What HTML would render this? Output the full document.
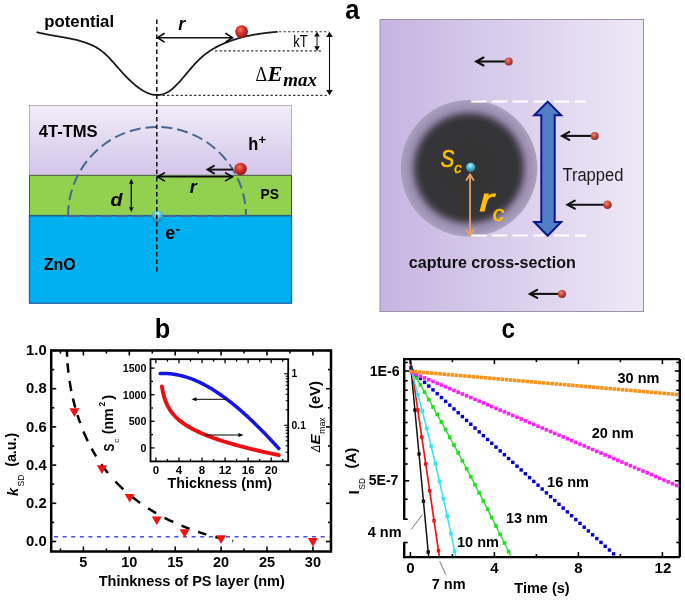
<!DOCTYPE html><html><head><meta charset="utf-8"><style>html,body{margin:0;padding:0;background:#fff;overflow:hidden;}svg{display:block;will-change:transform;}</style></head><body>
<svg width="685" height="600" viewBox="0 0 685 600">
<defs>
<radialGradient id="gred" cx="0.4" cy="0.35" r="0.65"><stop offset="0" stop-color="#f07a6a"/><stop offset="0.45" stop-color="#d8332b"/><stop offset="1" stop-color="#8e1a16"/></radialGradient>
<radialGradient id="gsred" cx="0.4" cy="0.35" r="0.65"><stop offset="0" stop-color="#e88a78"/><stop offset="0.5" stop-color="#cc4a3e"/><stop offset="1" stop-color="#8a2a24"/></radialGradient>
<radialGradient id="gcyan" cx="0.45" cy="0.3" r="0.7"><stop offset="0" stop-color="#bff0fb"/><stop offset="0.45" stop-color="#4fbfdc"/><stop offset="1" stop-color="#2a7f9f"/></radialGradient>
<radialGradient id="gecyan" cx="0.5" cy="0.3" r="0.7"><stop offset="0" stop-color="#d0f6ff"/><stop offset="0.45" stop-color="#4cc0e4"/><stop offset="1" stop-color="#2f6f8f"/></radialGradient>
<linearGradient id="gpurp" x1="0" y1="0" x2="0" y2="1"><stop offset="0" stop-color="#f1edf8"/><stop offset="1" stop-color="#d3c4e9"/></linearGradient>
<linearGradient id="gpa" x1="0" y1="0" x2="1" y2="0"><stop offset="0" stop-color="#c6b4e1"/><stop offset="1" stop-color="#eee9f7"/></linearGradient>
<radialGradient id="gdark" cx="0.5" cy="0.5" r="0.5"><stop offset="0" stop-color="#333333"/><stop offset="0.70" stop-color="#353437"/><stop offset="0.765" stop-color="#4b4653"/><stop offset="0.825" stop-color="#7b708d"/><stop offset="0.875" stop-color="#998dad"/><stop offset="1" stop-color="#ada1c2"/></radialGradient>
</defs>
<text x="44.3" y="27.3" font-family='"Liberation Sans", sans-serif' font-size="17" font-weight="bold" font-style="normal" fill="#000" text-anchor="start" textLength="69.8" lengthAdjust="spacingAndGlyphs" >potential</text>
<path d="M36.60,32.05 L37.57,32.31 L38.54,32.56 L39.50,32.80 L40.47,33.04 L41.44,33.26 L42.41,33.48 L43.38,33.70 L44.35,33.90 L45.31,34.10 L46.28,34.30 L47.25,34.49 L48.22,34.68 L49.19,34.86 L50.16,35.03 L51.12,35.21 L52.09,35.38 L53.06,35.55 L54.03,35.72 L55.00,35.88 L55.97,36.05 L56.93,36.21 L57.90,36.37 L58.87,36.54 L59.84,36.70 L60.81,36.86 L61.78,37.03 L62.74,37.20 L63.71,37.37 L64.68,37.54 L65.65,37.71 L66.62,37.89 L67.58,38.07 L68.55,38.26 L69.52,38.45 L70.49,38.65 L71.46,38.85 L72.43,39.06 L73.39,39.27 L74.36,39.49 L75.33,39.72 L76.30,39.96 L77.27,40.20 L78.24,40.45 L79.20,40.71 L80.17,40.98 L81.14,41.26 L82.11,41.56 L83.08,41.86 L84.05,42.17 L85.01,42.49 L85.98,42.83 L86.95,43.18 L87.92,43.54 L88.89,43.91 L89.86,44.30 L90.82,44.71 L91.79,45.14 L92.76,45.59 L93.73,46.06 L94.70,46.56 L95.66,47.08 L96.63,47.63 L97.60,48.21 L98.57,48.83 L99.54,49.47 L100.51,50.15 L101.47,50.86 L102.44,51.62 L103.41,52.41 L104.38,53.24 L105.35,54.11 L106.32,55.03 L107.28,55.97 L108.25,56.95 L109.22,57.95 L110.19,58.98 L111.16,60.03 L112.13,61.09 L113.09,62.17 L114.06,63.27 L115.03,64.37 L116.00,65.47 L116.97,66.57 L117.93,67.68 L118.90,68.77 L119.87,69.86 L120.84,70.94 L121.81,72.00 L122.78,73.06 L123.74,74.10 L124.71,75.12 L125.68,76.13 L126.65,77.13 L127.62,78.11 L128.59,79.07 L129.55,80.01 L130.52,80.93 L131.49,81.83 L132.46,82.71 L133.43,83.57 L134.40,84.40 L135.36,85.21 L136.33,85.99 L137.30,86.75 L138.27,87.48 L139.24,88.18 L140.21,88.86 L141.17,89.50 L142.14,90.12 L143.11,90.70 L144.08,91.25 L145.05,91.76 L146.01,92.24 L146.98,92.69 L147.95,93.10 L148.92,93.47 L149.89,93.81 L150.86,94.11 L151.82,94.36 L152.79,94.58 L153.76,94.75 L154.73,94.89 L155.70,94.97 L156.67,95.02 L157.63,95.02 L158.60,94.97 L159.57,94.87 L160.54,94.73 L161.51,94.54 L162.48,94.30 L163.44,94.01 L164.41,93.66 L165.38,93.27 L166.35,92.82 L167.32,92.31 L168.29,91.75 L169.25,91.14 L170.22,90.47 L171.19,89.74 L172.16,88.97 L173.13,88.15 L174.09,87.28 L175.06,86.37 L176.03,85.43 L177.00,84.45 L177.97,83.44 L178.94,82.40 L179.90,81.34 L180.87,80.25 L181.84,79.15 L182.81,78.02 L183.78,76.89 L184.75,75.74 L185.71,74.59 L186.68,73.43 L187.65,72.27 L188.62,71.12 L189.59,69.97 L190.56,68.82 L191.52,67.69 L192.49,66.58 L193.46,65.48 L194.43,64.40 L195.40,63.34 L196.37,62.31 L197.33,61.31 L198.30,60.34 L199.27,59.40 L200.24,58.50 L201.21,57.62 L202.17,56.77 L203.14,55.94 L204.11,55.14 L205.08,54.37 L206.05,53.63 L207.02,52.91 L207.98,52.21 L208.95,51.54 L209.92,50.88 L210.89,50.25 L211.86,49.64 L212.83,49.05 L213.79,48.48 L214.76,47.93 L215.73,47.39 L216.70,46.88 L217.67,46.37 L218.64,45.89 L219.60,45.41 L220.57,44.96 L221.54,44.51 L222.51,44.08 L223.48,43.66 L224.44,43.25 L225.41,42.84 L226.38,42.45 L227.35,42.07 L228.32,41.70 L229.29,41.33 L230.25,40.98 L231.22,40.63 L232.19,40.30 L233.16,39.97 L234.13,39.65 L235.10,39.34 L236.06,39.03 L237.03,38.74 L238.00,38.45 L238.97,38.17 L239.94,37.90 L240.91,37.63 L241.87,37.37 L242.84,37.12 L243.81,36.88 L244.78,36.64 L245.75,36.42 L246.72,36.19 L247.68,35.98 L248.65,35.77 L249.62,35.56 L250.59,35.37 L251.56,35.17 L252.52,34.99 L253.49,34.81 L254.46,34.64 L255.43,34.47 L256.40,34.30 L257.37,34.15 L258.33,33.99 L259.30,33.84 L260.27,33.70 L261.24,33.56 L262.21,33.43 L263.18,33.30 L264.14,33.17 L265.11,33.05 L266.08,32.94 L267.05,32.82 L268.02,32.71 L268.99,32.61 L269.95,32.51 L270.92,32.41 L271.89,32.31 L272.86,32.22 L273.83,32.13 L274.80,32.04 L275.76,31.96 L276.73,31.88 L277.70,31.80" fill="none" stroke="#1a1a1a" stroke-width="1.8" stroke-linejoin="round"/>
<line x1="158.00" y1="37.70" x2="232.00" y2="37.70" stroke="#111" stroke-width="1.5" />
<polyline points="164.10,33.50 157.50,37.70 164.10,41.90" fill="none" stroke="#000" stroke-width="1.5" stroke-linecap="round" stroke-linejoin="miter"/>
<polyline points="225.90,41.90 232.50,37.70 225.90,33.50" fill="none" stroke="#000" stroke-width="1.5" stroke-linecap="round" stroke-linejoin="miter"/>
<text x="178.3" y="29.7" font-family='"Liberation Sans", sans-serif' font-size="18" font-weight="bold" font-style="italic" fill="#000" text-anchor="start" >r</text>
<circle cx="241.6" cy="31.6" r="6.4" fill="url(#gred)"/>
<line x1="279.00" y1="31.80" x2="329.00" y2="31.80" stroke="#3a3a3a" stroke-width="1.1" stroke-dasharray="2.4 2.1"/>
<line x1="215.00" y1="50.90" x2="323.00" y2="50.90" stroke="#3a3a3a" stroke-width="1.1" stroke-dasharray="2.4 2.1"/>
<line x1="158.00" y1="95.40" x2="329.00" y2="95.40" stroke="#3a3a3a" stroke-width="1.1" stroke-dasharray="2.4 2.1"/>
<line x1="317.00" y1="34.00" x2="317.00" y2="49.00" stroke="#111" stroke-width="1" />
<polygon points="319.90,36.40 317.00,31.80 314.10,36.40" fill="#111"/>
<polygon points="314.10,46.30 317.00,50.90 319.90,46.30" fill="#111"/>
<text x="293.3" y="46.7" font-family='"Liberation Sans", sans-serif' font-size="16.3" font-weight="normal" font-style="normal" fill="#000" text-anchor="start" textLength="14.5" lengthAdjust="spacingAndGlyphs" >kT</text>
<line x1="329.50" y1="34.00" x2="329.50" y2="93.00" stroke="#111" stroke-width="1.1" />
<polygon points="332.80,37.10 329.50,31.80 326.20,37.10" fill="#111"/>
<polygon points="326.20,90.00 329.50,95.30 332.80,90.00" fill="#111"/>
<text x="255.5" y="80.8" font-family='"Liberation Serif", serif' font-size="20.5" font-weight="normal" font-style="normal" fill="#000" text-anchor="start" textLength="11.6" lengthAdjust="spacingAndGlyphs" >&#916;</text>
<text x="267.5" y="80.8" font-family='"Liberation Serif", serif' font-size="20" font-weight="bold" font-style="italic" fill="#000" text-anchor="start" textLength="15" lengthAdjust="spacingAndGlyphs" >E</text>
<text x="283.3" y="86.1" font-family='"Liberation Serif", serif' font-size="18" font-weight="bold" font-style="italic" fill="#000" text-anchor="start" textLength="33.7" lengthAdjust="spacingAndGlyphs" >max</text>
<rect x="29.5" y="105.5" width="262" height="70" fill="url(#gpurp)" stroke="#a8a4b0" stroke-width="0.8"/>
<rect x="29.5" y="175.3" width="262" height="40.3" fill="#92d050"/>
<rect x="29.5" y="215.6" width="262" height="87.6" fill="#00b0f0" stroke="#1f6aab" stroke-width="1.4"/>
<line x1="29.50" y1="175.30" x2="291.50" y2="175.30" stroke="#4a5a40" stroke-width="1" />
<line x1="29.50" y1="215.60" x2="291.50" y2="215.60" stroke="#2a5f78" stroke-width="1.4" />
<line x1="291.50" y1="175.30" x2="291.50" y2="215.60" stroke="#4a5a40" stroke-width="1" />
<line x1="29.50" y1="175.30" x2="29.50" y2="215.60" stroke="#4a5a40" stroke-width="1" />
<path d="M68,216 A89,89 0 0 1 246,216" fill="none" stroke="#46688f" stroke-width="2" stroke-dasharray="11 5"/>
<line x1="68.00" y1="216.00" x2="246.00" y2="216.00" stroke="#46688f" stroke-width="2" stroke-dasharray="11 5"/>
<text x="38.7" y="137" font-family='"Liberation Sans", sans-serif' font-size="16.8" font-weight="bold" font-style="normal" fill="#000" text-anchor="start" textLength="59" lengthAdjust="spacingAndGlyphs" >4T-TMS</text>
<text x="248.3" y="150.1" font-family='"Liberation Sans", sans-serif' font-size="19" font-weight="bold" font-style="normal" fill="#000" text-anchor="start" textLength="10" lengthAdjust="spacingAndGlyphs" >h</text>
<text x="258.6" y="143.7" font-family='"Liberation Sans", sans-serif' font-size="12" font-weight="bold" font-style="normal" fill="#000" text-anchor="start" textLength="7.6" lengthAdjust="spacingAndGlyphs" >+</text>
<text x="260.6" y="199" font-family='"Liberation Sans", sans-serif' font-size="15.3" font-weight="bold" font-style="normal" fill="#000" text-anchor="start" textLength="18.4" lengthAdjust="spacingAndGlyphs" >PS</text>
<text x="43.8" y="270" font-family='"Liberation Sans", sans-serif' font-size="16.8" font-weight="bold" font-style="normal" fill="#000" text-anchor="start" textLength="32" lengthAdjust="spacingAndGlyphs" >ZnO</text>
<text x="165.3" y="238.7" font-family='"Liberation Sans", sans-serif' font-size="19" font-weight="bold" font-style="normal" fill="#000" text-anchor="start" textLength="10" lengthAdjust="spacingAndGlyphs" >e</text>
<line x1="176.20" y1="229.90" x2="179.50" y2="229.90" stroke="#000" stroke-width="1.6" />
<text x="110.5" y="205.8" font-family='"Liberation Sans", sans-serif' font-size="19" font-weight="bold" font-style="italic" fill="#000" text-anchor="start" textLength="12" lengthAdjust="spacingAndGlyphs" >d</text>
<text x="189.7" y="193.4" font-family='"Liberation Sans", sans-serif' font-size="18" font-weight="bold" font-style="italic" fill="#000" text-anchor="start" >r</text>
<line x1="131.30" y1="182.00" x2="131.30" y2="209.00" stroke="#111" stroke-width="1.4" />
<polygon points="133.60,183.80 131.30,178.80 129.00,183.80" fill="#111"/>
<polygon points="129.00,207.30 131.30,212.30 133.60,207.30" fill="#111"/>
<line x1="158.00" y1="176.80" x2="232.00" y2="176.80" stroke="#111" stroke-width="1.5" />
<polyline points="164.50,172.80 157.50,176.80 164.50,180.80" fill="none" stroke="#000" stroke-width="1.5" stroke-linecap="round" stroke-linejoin="miter"/>
<polyline points="225.50,180.80 232.50,176.80 225.50,172.80" fill="none" stroke="#000" stroke-width="1.5" stroke-linecap="round" stroke-linejoin="miter"/>
<line x1="208.00" y1="169.60" x2="233.00" y2="169.60" stroke="#111" stroke-width="1.9" />
<polyline points="214.00,165.80 207.50,169.60 214.00,173.40" fill="none" stroke="#111" stroke-width="1.9" stroke-linecap="round" stroke-linejoin="miter"/>
<circle cx="240.6" cy="169" r="6.2" fill="url(#gred)"/>
<circle cx="157.4" cy="216.3" r="5.8" fill="url(#gecyan)" fill-opacity="0.88"/>
<line x1="156.80" y1="19.50" x2="156.80" y2="272.00" stroke="#111" stroke-width="1.5" stroke-dasharray="4.5 3"/>
<text x="345.3" y="19.2" font-family='"Liberation Sans", sans-serif' font-size="27.5" font-weight="bold" font-style="normal" fill="#000" text-anchor="start" textLength="14.3" lengthAdjust="spacingAndGlyphs" >a</text>
<rect x="380" y="19.5" width="263.5" height="292" fill="url(#gpa)" stroke="#9b93a8" stroke-width="1"/>
<circle cx="469" cy="168.2" r="68.3" fill="url(#gdark)"/>
<line x1="471.20" y1="101.50" x2="586.00" y2="101.50" stroke="#fff" stroke-width="2" stroke-dasharray="15.4 5.3"/>
<line x1="471.20" y1="235.40" x2="586.00" y2="235.40" stroke="#fff" stroke-width="2" stroke-dasharray="15.4 5.3"/>
<polygon points="547.7,101.6 561.2,115.3 554.7,115.3 554.7,222 561.2,222 547.7,235.8 534.2,222 541.3,222 541.3,115.3 534.2,115.3" fill="#4f7fc4" stroke="#0c1490" stroke-width="2" stroke-linejoin="miter"/>
<line x1="477.20" y1="61.50" x2="508.70" y2="61.50" stroke="#111" stroke-width="2.1" />
<polyline points="483.50,57.50 476.20,61.50 483.50,65.50" fill="none" stroke="#111" stroke-width="2.1" stroke-linecap="round" stroke-linejoin="miter"/>
<circle cx="508.7" cy="61.5" r="4" fill="url(#gsred)"/>
<line x1="563.00" y1="135.90" x2="594.70" y2="135.90" stroke="#111" stroke-width="2.1" />
<polyline points="569.30,131.90 562.00,135.90 569.30,139.90" fill="none" stroke="#111" stroke-width="2.1" stroke-linecap="round" stroke-linejoin="miter"/>
<circle cx="594.7" cy="135.9" r="4" fill="url(#gsred)"/>
<line x1="568.50" y1="204.70" x2="607.50" y2="204.70" stroke="#111" stroke-width="2.1" />
<polyline points="574.80,200.70 567.50,204.70 574.80,208.70" fill="none" stroke="#111" stroke-width="2.1" stroke-linecap="round" stroke-linejoin="miter"/>
<circle cx="607.5" cy="204.7" r="4.3" fill="url(#gsred)"/>
<line x1="530.80" y1="293.90" x2="562.00" y2="293.90" stroke="#111" stroke-width="2.1" />
<polyline points="537.10,289.90 529.80,293.90 537.10,297.90" fill="none" stroke="#111" stroke-width="2.1" stroke-linecap="round" stroke-linejoin="miter"/>
<circle cx="562" cy="293.9" r="4" fill="url(#gsred)"/>
<circle cx="470.7" cy="167.3" r="4.6" fill="url(#gcyan)"/>
<line x1="470.00" y1="176.00" x2="470.00" y2="234.00" stroke="#f0a060" stroke-width="1.8" />
<polyline points="473.50,180.00 470.00,174.50 466.50,180.00" fill="none" stroke="#f0a060" stroke-width="1.8" stroke-linecap="round" stroke-linejoin="miter"/>
<polyline points="466.50,230.00 470.00,235.50 473.50,230.00" fill="none" stroke="#f0a060" stroke-width="1.8" stroke-linecap="round" stroke-linejoin="miter"/>
<text x="440.8" y="167.3" font-family='"Liberation Sans", sans-serif' font-size="24" font-weight="normal" font-style="italic" fill="#ffc000" text-anchor="start" textLength="13.5" lengthAdjust="spacingAndGlyphs" stroke="#ffc000" stroke-width="0.7">S</text>
<text x="454.3" y="173" font-family='"Liberation Sans", sans-serif' font-size="15" font-weight="normal" font-style="italic" fill="#ffc000" text-anchor="start" textLength="7.3" lengthAdjust="spacingAndGlyphs" stroke="#ffc000" stroke-width="0.5">c</text>
<text x="479.5" y="211.3" font-family='"Liberation Sans", sans-serif' font-size="32" font-weight="normal" font-style="italic" fill="#ffc000" text-anchor="start" textLength="14.5" lengthAdjust="spacingAndGlyphs" stroke="#ffc000" stroke-width="0.8">r</text>
<text x="492.8" y="221.2" font-family='"Liberation Sans", sans-serif' font-size="22" font-weight="normal" font-style="italic" fill="#ffc000" text-anchor="start" textLength="11.5" lengthAdjust="spacingAndGlyphs" stroke="#ffc000" stroke-width="0.6">c</text>
<text x="562.4" y="180.7" font-family='"Liberation Sans", sans-serif' font-size="17.5" font-weight="normal" font-style="normal" fill="#1a1a1a" text-anchor="start" textLength="61" lengthAdjust="spacingAndGlyphs" >Trapped</text>
<text x="408.8" y="267.9" font-family='"Liberation Sans", sans-serif' font-size="17.3" font-weight="bold" font-style="normal" fill="#111" text-anchor="start" textLength="167" lengthAdjust="spacingAndGlyphs" >capture cross-section</text>
<text x="154.8" y="338" font-family='"Liberation Sans", sans-serif' font-size="27.5" font-weight="bold" font-style="normal" fill="#000" text-anchor="start" textLength="15.5" lengthAdjust="spacingAndGlyphs" >b</text>
<line x1="60.45" y1="551.50" x2="60.45" y2="548.50" stroke="#000" stroke-width="1.6" />
<line x1="60.45" y1="350.50" x2="60.45" y2="353.50" stroke="#000" stroke-width="1.6" />
<line x1="83.40" y1="551.50" x2="83.40" y2="546.50" stroke="#000" stroke-width="1.6" />
<line x1="83.40" y1="350.50" x2="83.40" y2="355.50" stroke="#000" stroke-width="1.6" />
<line x1="106.35" y1="551.50" x2="106.35" y2="548.50" stroke="#000" stroke-width="1.6" />
<line x1="106.35" y1="350.50" x2="106.35" y2="353.50" stroke="#000" stroke-width="1.6" />
<line x1="129.30" y1="551.50" x2="129.30" y2="546.50" stroke="#000" stroke-width="1.6" />
<line x1="129.30" y1="350.50" x2="129.30" y2="355.50" stroke="#000" stroke-width="1.6" />
<line x1="152.25" y1="551.50" x2="152.25" y2="548.50" stroke="#000" stroke-width="1.6" />
<line x1="152.25" y1="350.50" x2="152.25" y2="353.50" stroke="#000" stroke-width="1.6" />
<line x1="175.20" y1="551.50" x2="175.20" y2="546.50" stroke="#000" stroke-width="1.6" />
<line x1="175.20" y1="350.50" x2="175.20" y2="355.50" stroke="#000" stroke-width="1.6" />
<line x1="198.15" y1="551.50" x2="198.15" y2="548.50" stroke="#000" stroke-width="1.6" />
<line x1="198.15" y1="350.50" x2="198.15" y2="353.50" stroke="#000" stroke-width="1.6" />
<line x1="221.10" y1="551.50" x2="221.10" y2="546.50" stroke="#000" stroke-width="1.6" />
<line x1="221.10" y1="350.50" x2="221.10" y2="355.50" stroke="#000" stroke-width="1.6" />
<line x1="244.05" y1="551.50" x2="244.05" y2="548.50" stroke="#000" stroke-width="1.6" />
<line x1="244.05" y1="350.50" x2="244.05" y2="353.50" stroke="#000" stroke-width="1.6" />
<line x1="267.00" y1="551.50" x2="267.00" y2="546.50" stroke="#000" stroke-width="1.6" />
<line x1="267.00" y1="350.50" x2="267.00" y2="355.50" stroke="#000" stroke-width="1.6" />
<line x1="289.95" y1="551.50" x2="289.95" y2="548.50" stroke="#000" stroke-width="1.6" />
<line x1="289.95" y1="350.50" x2="289.95" y2="353.50" stroke="#000" stroke-width="1.6" />
<line x1="312.90" y1="551.50" x2="312.90" y2="546.50" stroke="#000" stroke-width="1.6" />
<line x1="312.90" y1="350.50" x2="312.90" y2="355.50" stroke="#000" stroke-width="1.6" />
<line x1="51.20" y1="541.50" x2="56.20" y2="541.50" stroke="#000" stroke-width="1.6" />
<line x1="331.00" y1="541.50" x2="326.00" y2="541.50" stroke="#000" stroke-width="1.6" />
<line x1="51.20" y1="522.40" x2="54.20" y2="522.40" stroke="#000" stroke-width="1.6" />
<line x1="331.00" y1="522.40" x2="328.00" y2="522.40" stroke="#000" stroke-width="1.6" />
<line x1="51.20" y1="503.30" x2="56.20" y2="503.30" stroke="#000" stroke-width="1.6" />
<line x1="331.00" y1="503.30" x2="326.00" y2="503.30" stroke="#000" stroke-width="1.6" />
<line x1="51.20" y1="484.20" x2="54.20" y2="484.20" stroke="#000" stroke-width="1.6" />
<line x1="331.00" y1="484.20" x2="328.00" y2="484.20" stroke="#000" stroke-width="1.6" />
<line x1="51.20" y1="465.10" x2="56.20" y2="465.10" stroke="#000" stroke-width="1.6" />
<line x1="331.00" y1="465.10" x2="326.00" y2="465.10" stroke="#000" stroke-width="1.6" />
<line x1="51.20" y1="446.00" x2="54.20" y2="446.00" stroke="#000" stroke-width="1.6" />
<line x1="331.00" y1="446.00" x2="328.00" y2="446.00" stroke="#000" stroke-width="1.6" />
<line x1="51.20" y1="426.90" x2="56.20" y2="426.90" stroke="#000" stroke-width="1.6" />
<line x1="331.00" y1="426.90" x2="326.00" y2="426.90" stroke="#000" stroke-width="1.6" />
<line x1="51.20" y1="407.80" x2="54.20" y2="407.80" stroke="#000" stroke-width="1.6" />
<line x1="331.00" y1="407.80" x2="328.00" y2="407.80" stroke="#000" stroke-width="1.6" />
<line x1="51.20" y1="388.70" x2="56.20" y2="388.70" stroke="#000" stroke-width="1.6" />
<line x1="331.00" y1="388.70" x2="326.00" y2="388.70" stroke="#000" stroke-width="1.6" />
<line x1="51.20" y1="369.60" x2="54.20" y2="369.60" stroke="#000" stroke-width="1.6" />
<line x1="331.00" y1="369.60" x2="328.00" y2="369.60" stroke="#000" stroke-width="1.6" />
<line x1="51.20" y1="350.50" x2="56.20" y2="350.50" stroke="#000" stroke-width="1.6" />
<line x1="331.00" y1="350.50" x2="326.00" y2="350.50" stroke="#000" stroke-width="1.6" />
<rect x="51.2" y="350.5" width="279.8" height="201.0" fill="none" stroke="#000" stroke-width="2.5"/>
<text x="46.7" y="546.1" font-family='"Liberation Sans", sans-serif' font-size="14.8" font-weight="bold" font-style="normal" fill="#000" text-anchor="end" >0.0</text>
<text x="46.7" y="507.90000000000003" font-family='"Liberation Sans", sans-serif' font-size="14.8" font-weight="bold" font-style="normal" fill="#000" text-anchor="end" >0.2</text>
<text x="46.7" y="469.70000000000005" font-family='"Liberation Sans", sans-serif' font-size="14.8" font-weight="bold" font-style="normal" fill="#000" text-anchor="end" >0.4</text>
<text x="46.7" y="431.5" font-family='"Liberation Sans", sans-serif' font-size="14.8" font-weight="bold" font-style="normal" fill="#000" text-anchor="end" >0.6</text>
<text x="46.7" y="393.3" font-family='"Liberation Sans", sans-serif' font-size="14.8" font-weight="bold" font-style="normal" fill="#000" text-anchor="end" >0.8</text>
<text x="46.7" y="355.1" font-family='"Liberation Sans", sans-serif' font-size="14.8" font-weight="bold" font-style="normal" fill="#000" text-anchor="end" >1.0</text>
<text x="83.4" y="567.3" font-family='"Liberation Sans", sans-serif' font-size="14.5" font-weight="bold" font-style="normal" fill="#000" text-anchor="middle" >5</text>
<text x="129.3" y="567.3" font-family='"Liberation Sans", sans-serif' font-size="14.5" font-weight="bold" font-style="normal" fill="#000" text-anchor="middle" >10</text>
<text x="175.2" y="567.3" font-family='"Liberation Sans", sans-serif' font-size="14.5" font-weight="bold" font-style="normal" fill="#000" text-anchor="middle" >15</text>
<text x="221.1" y="567.3" font-family='"Liberation Sans", sans-serif' font-size="14.5" font-weight="bold" font-style="normal" fill="#000" text-anchor="middle" >20</text>
<text x="267.0" y="567.3" font-family='"Liberation Sans", sans-serif' font-size="14.5" font-weight="bold" font-style="normal" fill="#000" text-anchor="middle" >25</text>
<text x="312.9" y="567.3" font-family='"Liberation Sans", sans-serif' font-size="14.5" font-weight="bold" font-style="normal" fill="#000" text-anchor="middle" >30</text>
<text x="98.7" y="586" font-family='"Liberation Sans", sans-serif' font-size="14.5" font-weight="bold" font-style="normal" fill="#000" text-anchor="start" >Thinkness of PS layer (nm)</text>
<text transform="translate(17.7,496) rotate(-90)" font-family='"Liberation Sans", sans-serif' font-size="14.5" font-weight="bold" font-style="italic" fill="#000">k</text>
<text transform="translate(24,486.5) rotate(-90)" font-family='"Liberation Sans", sans-serif' font-size="8.5" font-weight="normal" font-style="normal" fill="#000">SD</text>
<text transform="translate(15.8,466.8) rotate(-90)" font-family='"Liberation Sans", sans-serif' font-size="14.5" font-weight="bold" font-style="normal" fill="#000" textLength="34" lengthAdjust="spacingAndGlyphs">(a.u.)</text>
<line x1="54.00" y1="536.80" x2="329.70" y2="536.80" stroke="#4a4ae6" stroke-width="1.4" stroke-dasharray="4 4.6"/>
<path d="M66.91,350.46 L66.92,351.01 L66.94,351.56 L66.95,352.11 L66.97,352.66 L66.99,353.21 L67.01,353.76 L67.03,354.31 L67.05,354.86 L67.08,355.41 L67.10,355.96 L67.13,356.51 L67.13,356.65 M67.55,363.27 L67.59,363.82 L67.64,364.38 L67.68,364.93 L67.73,365.48 L67.78,366.04 L67.83,366.59 L67.88,367.14 L67.93,367.69 L67.98,368.25 L68.04,368.80 L68.09,369.35 L68.15,369.91 L68.21,370.46 L68.27,371.01 L68.33,371.57 L68.39,372.12 L68.44,372.54 M69.55,380.83 L69.63,381.38 L69.72,381.94 L69.80,382.49 L69.89,383.04 L69.98,383.59 L70.07,384.14 L70.17,384.70 L70.26,385.25 L70.35,385.80 L70.45,386.35 L70.55,386.90 L70.65,387.45 L70.75,388.00 L70.85,388.55 L70.95,389.10 L71.06,389.65 L71.16,390.20 L71.27,390.75 L71.30,390.89 M72.91,398.42 L73.04,398.96 L73.17,399.51 L73.30,400.05 L73.43,400.60 L73.56,401.14 L73.69,401.69 L73.83,402.23 L73.97,402.77 L74.11,403.31 L74.25,403.86 L74.39,404.40 L74.53,404.94 L74.67,405.48 L74.82,406.02 L74.96,406.56 L75.11,407.10 L75.26,407.64 M77.45,415.01 L77.62,415.54 L77.80,416.07 L77.97,416.61 L78.14,417.14 L78.32,417.67 L78.49,418.20 L78.67,418.73 L78.85,419.25 L79.03,419.78 L79.22,420.31 L79.40,420.84 L79.58,421.36 L79.77,421.89 L79.96,422.41 L80.15,422.94 L80.24,423.20 M83.53,431.62 L83.75,432.13 L83.96,432.65 L84.18,433.16 L84.40,433.67 L84.62,434.18 L84.84,434.69 L85.07,435.19 L85.29,435.70 L85.52,436.21 L85.75,436.71 L85.98,437.22 L86.21,437.72 L86.44,438.22 L86.67,438.73 L86.91,439.23 L87.14,439.73 L87.38,440.23 L87.62,440.73 L87.80,441.10 M91.72,448.71 L91.98,449.19 L92.25,449.68 L92.51,450.16 L92.78,450.64 L93.05,451.12 L93.33,451.60 L93.60,452.07 L93.87,452.55 L94.15,453.02 L94.43,453.50 L94.71,453.97 L94.99,454.44 L95.27,454.92 L95.56,455.39 L95.84,455.86 L96.13,456.32 L96.20,456.44 M101.32,464.23 L101.63,464.68 L101.95,465.12 L102.26,465.57 L102.58,466.01 L102.90,466.46 L103.23,466.90 L103.55,467.34 L103.88,467.78 L104.20,468.22 L104.53,468.65 L104.86,469.09 L105.19,469.52 L105.52,469.96 L105.86,470.39 L106.19,470.82 L106.53,471.25 L106.87,471.68 L107.21,472.10 L107.55,472.53 L107.90,472.95 L107.98,473.06 M115.46,481.56 L115.83,481.96 L116.21,482.35 L116.59,482.74 L116.97,483.13 L117.35,483.53 L117.74,483.91 L118.12,484.30 L118.51,484.69 L118.89,485.07 L119.28,485.46 L119.67,485.84 L120.06,486.22 L120.46,486.60 L120.85,486.98 L121.25,487.36 L121.64,487.74 L122.04,488.11 L122.44,488.48 L122.84,488.86 L123.24,489.23 L123.34,489.32 M131.97,496.73 L132.40,497.07 L132.83,497.41 L133.26,497.75 L133.69,498.09 L134.13,498.43 L134.56,498.77 L135.00,499.10 L135.43,499.43 L135.87,499.77 L136.31,500.10 L136.75,500.43 L137.19,500.76 L137.64,501.09 L138.08,501.41 L138.52,501.74 L138.97,502.06 L139.42,502.39 L139.86,502.71 L140.09,502.87 M148.10,508.28 L148.57,508.58 L149.04,508.88 L149.51,509.17 L149.98,509.47 L150.45,509.76 L150.92,510.05 L151.39,510.34 L151.86,510.63 L152.34,510.92 L152.81,511.20 L153.29,511.49 L153.77,511.77 L154.24,512.06 L154.72,512.34 L155.20,512.62 L155.68,512.90 L156.16,513.18 M164.59,517.78 L165.09,518.03 L165.59,518.29 L166.08,518.54 L166.58,518.79 L167.08,519.04 L167.58,519.29 L168.08,519.54 L168.58,519.79 L169.08,520.03 L169.58,520.28 L170.09,520.52 L170.59,520.76 L171.10,521.00 L171.60,521.24 L172.11,521.48 L172.61,521.72 L173.12,521.96 L173.25,522.01 M181.57,525.68 L182.09,525.89 L182.60,526.10 L183.12,526.32 L183.64,526.53 L184.16,526.74 L184.68,526.95 L185.20,527.15 L185.72,527.36 L186.24,527.57 L186.76,527.77 L187.29,527.97 L187.81,528.18 L188.33,528.38 L188.86,528.58 L189.38,528.77 L189.51,528.82 M198.09,531.87 L198.62,532.05 L199.15,532.22 L199.68,532.40 L200.21,532.57 L200.74,532.75 L201.28,532.92 L201.81,533.09 L202.34,533.26 L202.88,533.42 L203.41,533.59 L203.94,533.76 L204.48,533.92 L205.01,534.08 L205.55,534.25 L206.08,534.41 L206.35,534.49 M215.35,537.00 L215.89,537.14 L216.43,537.28 L216.97,537.41 L217.51,537.55 L218.05,537.69 L218.59,537.82 L219.13,537.95 L219.67,538.08 L220.21,538.21 L220.75,538.34 L221.29,538.47 L221.83,538.60 L222.37,538.72 L222.64,538.79 M232.37,540.84 L232.91,540.94 L233.18,541.00 " fill="none" stroke="#000" stroke-width="2.5"/>
<polygon points="69.4,408.3 79.4,408.3 74.4,416.9" fill="#f51010"/>
<polygon points="96.9,465.3 106.9,465.3 101.9,473.9" fill="#f51010"/>
<polygon points="124.7,494.0 134.7,494.0 129.7,502.6" fill="#f51010"/>
<polygon points="151.8,516.5 161.8,516.5 156.8,525.1" fill="#f51010"/>
<polygon points="179.6,529.2 189.6,529.2 184.6,537.8" fill="#f51010"/>
<polygon points="216.0,535.3 226.0,535.3 221.0,543.9" fill="#f51010"/>
<polygon points="307.9,538.1 317.9,538.1 312.9,546.7" fill="#f51010"/>
<rect x="150.5" y="359.2" width="137.7" height="102.19999999999999" fill="#fff" stroke="#000" stroke-width="1.8"/>
<line x1="155.90" y1="461.40" x2="155.90" y2="457.40" stroke="#000" stroke-width="1.3" />
<line x1="155.90" y1="359.20" x2="155.90" y2="363.20" stroke="#000" stroke-width="1.3" />
<line x1="167.43" y1="461.40" x2="167.43" y2="458.90" stroke="#000" stroke-width="1.3" />
<line x1="167.43" y1="359.20" x2="167.43" y2="361.70" stroke="#000" stroke-width="1.3" />
<line x1="178.96" y1="461.40" x2="178.96" y2="457.40" stroke="#000" stroke-width="1.3" />
<line x1="178.96" y1="359.20" x2="178.96" y2="363.20" stroke="#000" stroke-width="1.3" />
<line x1="190.49" y1="461.40" x2="190.49" y2="458.90" stroke="#000" stroke-width="1.3" />
<line x1="190.49" y1="359.20" x2="190.49" y2="361.70" stroke="#000" stroke-width="1.3" />
<line x1="202.02" y1="461.40" x2="202.02" y2="457.40" stroke="#000" stroke-width="1.3" />
<line x1="202.02" y1="359.20" x2="202.02" y2="363.20" stroke="#000" stroke-width="1.3" />
<line x1="213.55" y1="461.40" x2="213.55" y2="458.90" stroke="#000" stroke-width="1.3" />
<line x1="213.55" y1="359.20" x2="213.55" y2="361.70" stroke="#000" stroke-width="1.3" />
<line x1="225.08" y1="461.40" x2="225.08" y2="457.40" stroke="#000" stroke-width="1.3" />
<line x1="225.08" y1="359.20" x2="225.08" y2="363.20" stroke="#000" stroke-width="1.3" />
<line x1="236.61" y1="461.40" x2="236.61" y2="458.90" stroke="#000" stroke-width="1.3" />
<line x1="236.61" y1="359.20" x2="236.61" y2="361.70" stroke="#000" stroke-width="1.3" />
<line x1="248.14" y1="461.40" x2="248.14" y2="457.40" stroke="#000" stroke-width="1.3" />
<line x1="248.14" y1="359.20" x2="248.14" y2="363.20" stroke="#000" stroke-width="1.3" />
<line x1="259.67" y1="461.40" x2="259.67" y2="458.90" stroke="#000" stroke-width="1.3" />
<line x1="259.67" y1="359.20" x2="259.67" y2="361.70" stroke="#000" stroke-width="1.3" />
<line x1="271.20" y1="461.40" x2="271.20" y2="457.40" stroke="#000" stroke-width="1.3" />
<line x1="271.20" y1="359.20" x2="271.20" y2="363.20" stroke="#000" stroke-width="1.3" />
<line x1="282.73" y1="461.40" x2="282.73" y2="458.90" stroke="#000" stroke-width="1.3" />
<line x1="282.73" y1="359.20" x2="282.73" y2="361.70" stroke="#000" stroke-width="1.3" />
<line x1="150.50" y1="447.90" x2="154.50" y2="447.90" stroke="#000" stroke-width="1.3" />
<line x1="150.50" y1="434.60" x2="153.00" y2="434.60" stroke="#000" stroke-width="1.3" />
<line x1="150.50" y1="421.30" x2="154.50" y2="421.30" stroke="#000" stroke-width="1.3" />
<line x1="150.50" y1="408.00" x2="153.00" y2="408.00" stroke="#000" stroke-width="1.3" />
<line x1="150.50" y1="394.70" x2="154.50" y2="394.70" stroke="#000" stroke-width="1.3" />
<line x1="150.50" y1="381.40" x2="153.00" y2="381.40" stroke="#000" stroke-width="1.3" />
<line x1="150.50" y1="368.10" x2="154.50" y2="368.10" stroke="#000" stroke-width="1.3" />
<line x1="288.20" y1="452.23" x2="285.70" y2="452.23" stroke="#000" stroke-width="1.1" />
<line x1="288.20" y1="445.79" x2="285.70" y2="445.79" stroke="#000" stroke-width="1.1" />
<line x1="288.20" y1="440.80" x2="285.70" y2="440.80" stroke="#000" stroke-width="1.1" />
<line x1="288.20" y1="436.73" x2="285.70" y2="436.73" stroke="#000" stroke-width="1.1" />
<line x1="288.20" y1="433.28" x2="285.70" y2="433.28" stroke="#000" stroke-width="1.1" />
<line x1="288.20" y1="430.29" x2="285.70" y2="430.29" stroke="#000" stroke-width="1.1" />
<line x1="288.20" y1="427.66" x2="285.70" y2="427.66" stroke="#000" stroke-width="1.1" />
<line x1="288.20" y1="425.30" x2="284.20" y2="425.30" stroke="#000" stroke-width="1.1" />
<line x1="288.20" y1="409.80" x2="285.70" y2="409.80" stroke="#000" stroke-width="1.1" />
<line x1="288.20" y1="400.73" x2="285.70" y2="400.73" stroke="#000" stroke-width="1.1" />
<line x1="288.20" y1="394.29" x2="285.70" y2="394.29" stroke="#000" stroke-width="1.1" />
<line x1="288.20" y1="389.30" x2="285.70" y2="389.30" stroke="#000" stroke-width="1.1" />
<line x1="288.20" y1="385.23" x2="285.70" y2="385.23" stroke="#000" stroke-width="1.1" />
<line x1="288.20" y1="381.78" x2="285.70" y2="381.78" stroke="#000" stroke-width="1.1" />
<line x1="288.20" y1="378.79" x2="285.70" y2="378.79" stroke="#000" stroke-width="1.1" />
<line x1="288.20" y1="376.16" x2="285.70" y2="376.16" stroke="#000" stroke-width="1.1" />
<line x1="288.20" y1="373.80" x2="284.20" y2="373.80" stroke="#000" stroke-width="1.1" />
<text x="155.9" y="474.3" font-family='"Liberation Sans", sans-serif' font-size="11.5" font-weight="bold" font-style="normal" fill="#000" text-anchor="middle" >0</text>
<text x="178.96" y="474.3" font-family='"Liberation Sans", sans-serif' font-size="11.5" font-weight="bold" font-style="normal" fill="#000" text-anchor="middle" >4</text>
<text x="202.02" y="474.3" font-family='"Liberation Sans", sans-serif' font-size="11.5" font-weight="bold" font-style="normal" fill="#000" text-anchor="middle" >8</text>
<text x="225.07999999999998" y="474.3" font-family='"Liberation Sans", sans-serif' font-size="11.5" font-weight="bold" font-style="normal" fill="#000" text-anchor="middle" >12</text>
<text x="248.14" y="474.3" font-family='"Liberation Sans", sans-serif' font-size="11.5" font-weight="bold" font-style="normal" fill="#000" text-anchor="middle" >16</text>
<text x="271.2" y="474.3" font-family='"Liberation Sans", sans-serif' font-size="11.5" font-weight="bold" font-style="normal" fill="#000" text-anchor="middle" >20</text>
<text x="146.5" y="451.7" font-family='"Liberation Sans", sans-serif' font-size="10.7" font-weight="bold" font-style="normal" fill="#000" text-anchor="end" >0</text>
<text x="146.5" y="425.09999999999997" font-family='"Liberation Sans", sans-serif' font-size="10.7" font-weight="bold" font-style="normal" fill="#000" text-anchor="end" >500</text>
<text x="146.5" y="398.5" font-family='"Liberation Sans", sans-serif' font-size="10.7" font-weight="bold" font-style="normal" fill="#000" text-anchor="end" >1000</text>
<text x="146.5" y="371.9" font-family='"Liberation Sans", sans-serif' font-size="10.7" font-weight="bold" font-style="normal" fill="#000" text-anchor="end" >1500</text>
<text x="291.6" y="377.4" font-family='"Liberation Sans", sans-serif' font-size="10.3" font-weight="bold" font-style="normal" fill="#000" text-anchor="start" >1</text>
<text x="291.6" y="428.6" font-family='"Liberation Sans", sans-serif' font-size="10.6" font-weight="bold" font-style="normal" fill="#000" text-anchor="start" textLength="14.3" lengthAdjust="spacingAndGlyphs" >0.1</text>
<text x="167.6" y="488" font-family='"Liberation Sans", sans-serif' font-size="14.25" font-weight="bold" font-style="normal" fill="#000" text-anchor="start" >Thickness (nm)</text>
<text transform="translate(113.8,451.6) rotate(-90)" font-family='"Liberation Sans", sans-serif' font-size="14.5" font-weight="bold" font-style="normal" fill="#000" textLength="7.8" lengthAdjust="spacingAndGlyphs">S</text>
<text transform="translate(119,442.8) rotate(-90)" font-family='"Liberation Sans", sans-serif' font-size="8" font-weight="normal" font-style="normal" fill="#000">c</text>
<text transform="translate(113.4,434.3) rotate(-90)" font-family='"Liberation Sans", sans-serif' font-size="15" font-weight="bold" font-style="normal" fill="#000" textLength="26" lengthAdjust="spacingAndGlyphs">(nm</text>
<text transform="translate(105.4,406.4) rotate(-90)" font-family='"Liberation Sans", sans-serif' font-size="9" font-weight="bold" font-style="normal" fill="#000" textLength="4.6" lengthAdjust="spacingAndGlyphs">2</text>
<text transform="translate(113.4,399.8) rotate(-90)" font-family='"Liberation Sans", sans-serif' font-size="15" font-weight="bold" font-style="normal" fill="#000">)</text>
<text transform="translate(319.7,452.2) rotate(-90)" font-family='"Liberation Sans", sans-serif' font-size="12" font-weight="normal" font-style="italic" fill="#000" textLength="7.6" lengthAdjust="spacingAndGlyphs">&#916;</text>
<text transform="translate(319.7,444.4) rotate(-90)" font-family='"Liberation Sans", sans-serif' font-size="13" font-weight="bold" font-style="italic" fill="#000" textLength="10.2" lengthAdjust="spacingAndGlyphs">E</text>
<text transform="translate(324.8,433.7) rotate(-90)" font-family='"Liberation Sans", sans-serif' font-size="9.5" font-weight="normal" font-style="normal" fill="#000" textLength="16.4" lengthAdjust="spacingAndGlyphs">max</text>
<text transform="translate(319.5,409) rotate(-90)" font-family='"Liberation Sans", sans-serif' font-size="14" font-weight="bold" font-style="normal" fill="#000" textLength="27.8" lengthAdjust="spacingAndGlyphs">(eV)</text>
<path d="M160.20,373.59 L161.70,373.53 L163.20,373.50 L164.70,373.51 L166.21,373.54 L167.71,373.62 L169.21,373.72 L170.71,373.86 L172.21,374.02 L173.71,374.23 L175.21,374.46 L176.71,374.72 L178.22,375.01 L179.72,375.34 L181.22,375.69 L182.72,376.07 L184.22,376.49 L185.72,376.93 L187.22,377.40 L188.72,377.90 L190.23,378.43 L191.73,378.98 L193.23,379.57 L194.73,380.18 L196.23,380.82 L197.73,381.48 L199.23,382.17 L200.73,382.89 L202.24,383.63 L203.74,384.40 L205.24,385.19 L206.74,386.01 L208.24,386.86 L209.74,387.72 L211.24,388.62 L212.74,389.53 L214.25,390.47 L215.75,391.43 L217.25,392.42 L218.75,393.42 L220.25,394.45 L221.75,395.50 L223.25,396.57 L224.75,397.67 L226.26,398.78 L227.76,399.92 L229.26,401.07 L230.76,402.25 L232.26,403.44 L233.76,404.66 L235.26,405.89 L236.76,407.14 L238.27,408.41 L239.77,409.70 L241.27,411.00 L242.77,412.33 L244.27,413.67 L245.77,415.03 L247.27,416.40 L248.77,417.79 L250.28,419.20 L251.78,420.62 L253.28,422.06 L254.78,423.51 L256.28,424.98 L257.78,426.46 L259.28,427.96 L260.78,429.46 L262.29,430.99 L263.79,432.52 L265.29,434.07 L266.79,435.63 L268.29,437.21 L269.79,438.79 L271.29,440.39 L272.79,442.00 L274.30,443.62 L275.80,445.25 L277.30,446.89 L278.80,448.54" fill="none" stroke="#1414e6" stroke-width="3.5" stroke-linecap="round" stroke-linejoin="round"/>
<path d="M161.90,386.35 L163.08,392.81 L164.26,397.34 L165.44,400.85 L166.62,403.71 L167.80,406.14 L168.98,408.26 L170.17,410.13 L171.35,411.81 L172.53,413.33 L173.71,414.74 L174.89,416.03 L176.07,417.24 L177.25,418.37 L178.43,419.43 L179.61,420.43 L180.79,421.38 L181.97,422.29 L183.15,423.15 L184.34,423.98 L185.52,424.77 L186.70,425.53 L187.88,426.26 L189.06,426.96 L190.24,427.65 L191.42,428.31 L192.60,428.95 L193.78,429.56 L194.96,430.17 L196.14,430.75 L197.32,431.32 L198.51,431.88 L199.69,432.42 L200.87,432.95 L202.05,433.47 L203.23,433.97 L204.41,434.46 L205.59,434.95 L206.77,435.42 L207.95,435.89 L209.13,436.34 L210.31,436.79 L211.49,437.23 L212.67,437.66 L213.86,438.09 L215.04,438.50 L216.22,438.91 L217.40,439.32 L218.58,439.72 L219.76,440.11 L220.94,440.49 L222.12,440.87 L223.30,441.25 L224.48,441.62 L225.66,441.98 L226.84,442.35 L228.03,442.70 L229.21,443.05 L230.39,443.40 L231.57,443.74 L232.75,444.08 L233.93,444.42 L235.11,444.75 L236.29,445.08 L237.47,445.40 L238.65,445.72 L239.83,446.04 L241.01,446.36 L242.19,446.67 L243.38,446.97 L244.56,447.28 L245.74,447.58 L246.92,447.88 L248.10,448.18 L249.28,448.47 L250.46,448.77 L251.64,449.05 L252.82,449.34 L254.00,449.63 L255.18,449.91 L256.36,450.19 L257.55,450.47 L258.73,450.74 L259.91,451.01 L261.09,451.29 L262.27,451.56 L263.45,451.82 L264.63,452.09 L265.81,452.35 L266.99,452.61 L268.17,452.87 L269.35,453.13 L270.53,453.39 L271.72,453.64 L272.90,453.90 L274.08,454.15 L275.26,454.40 L276.44,454.65 L277.62,454.89 L278.80,455.14" fill="none" stroke="#e81010" stroke-width="3.9" stroke-linecap="round" stroke-linejoin="round"/>
<line x1="196.00" y1="399.30" x2="226.60" y2="399.30" stroke="#000" stroke-width="1" />
<polygon points="196.50,397.30 191.50,399.30 196.50,401.30" fill="#000"/>
<line x1="205.20" y1="435.00" x2="239.00" y2="435.00" stroke="#000" stroke-width="1" />
<polygon points="238.50,437.00 243.50,435.00 238.50,433.00" fill="#000"/>
<text x="501.5" y="338" font-family='"Liberation Sans", sans-serif' font-size="27.5" font-weight="bold" font-style="normal" fill="#000" text-anchor="start" textLength="13.5" lengthAdjust="spacingAndGlyphs" >c</text>
<clipPath id="cc"><rect x="404.2" y="359.1" width="275.59999999999997" height="198.0"/></clipPath>
<g clip-path="url(#cc)">
<line x1="410.10" y1="359.00" x2="428.79" y2="558.10" stroke="#111" stroke-width="1.5" />
<rect x="413.19" y="408.30" width="3.4" height="3.4" fill="#111"/>
<rect x="417.32" y="452.30" width="3.4" height="3.4" fill="#111"/>
<rect x="421.76" y="499.60" width="3.4" height="3.4" fill="#111"/>
<rect x="426.52" y="550.30" width="3.4" height="3.4" fill="#111"/>
<line x1="410.30" y1="359.00" x2="439.58" y2="558.10" stroke="#ee1515" stroke-width="1.7" />
<rect x="416.05" y="408.25" width="3.5" height="3.5" fill="#ee1515"/>
<rect x="420.02" y="435.25" width="3.5" height="3.5" fill="#ee1515"/>
<rect x="423.99" y="462.25" width="3.5" height="3.5" fill="#ee1515"/>
<rect x="427.92" y="488.95" width="3.5" height="3.5" fill="#ee1515"/>
<rect x="432.31" y="518.85" width="3.5" height="3.5" fill="#ee1515"/>
<rect x="436.74" y="548.95" width="3.5" height="3.5" fill="#ee1515"/>
<path d="M411.50,371.54 L412.65,375.61 L413.81,379.71 L414.96,383.86 L416.12,388.05 L417.27,392.28 L418.42,396.54 L419.58,400.85 L420.73,405.21 L421.88,409.60 L423.04,414.03 L424.19,418.50 L425.35,423.02 L426.50,427.57 L427.65,432.17 L428.81,436.81 L429.96,441.48 L431.12,446.20 L432.27,450.96 L433.42,455.76 L434.58,460.60 L435.73,465.49 L436.88,470.41 L438.04,475.37 L439.19,480.38 L440.35,485.43 L441.50,490.51 L442.65,495.64 L443.81,500.81 L444.96,506.02 L446.12,511.27 L447.27,516.56 L448.42,521.89 L449.58,527.27 L450.73,532.68 L451.88,538.13 L453.04,543.63 L454.19,549.17 L455.35,554.74 L456.50,560.36" fill="none" stroke="#33e4f2" stroke-width="1.5"/>
<rect x="416.13" y="392.90" width="3.6" height="3.6" fill="#33e4f2"/>
<rect x="420.45" y="409.20" width="3.6" height="3.6" fill="#33e4f2"/>
<rect x="424.93" y="426.70" width="3.6" height="3.6" fill="#33e4f2"/>
<rect x="429.27" y="444.20" width="3.6" height="3.6" fill="#33e4f2"/>
<rect x="433.46" y="461.70" width="3.6" height="3.6" fill="#33e4f2"/>
<rect x="437.65" y="479.70" width="3.6" height="3.6" fill="#33e4f2"/>
<rect x="441.54" y="496.90" width="3.6" height="3.6" fill="#33e4f2"/>
<rect x="445.39" y="514.40" width="3.6" height="3.6" fill="#33e4f2"/>
<rect x="449.15" y="531.90" width="3.6" height="3.6" fill="#33e4f2"/>
<rect x="452.81" y="549.40" width="3.6" height="3.6" fill="#33e4f2"/>
<path d="M411.50,369.62 L414.05,373.96 L416.60,378.33 L419.15,382.72 L421.71,387.14 L424.26,391.58 L426.81,396.04 L429.36,400.52 L431.91,405.03 L434.46,409.57 L437.01,414.12 L439.56,418.70 L442.12,423.30 L444.67,427.93 L447.22,432.58 L449.77,437.25 L452.32,441.95 L454.87,446.67 L457.42,451.42 L459.97,456.18 L462.53,460.98 L465.08,465.79 L467.63,470.63 L470.18,475.49 L472.73,480.37 L475.28,485.28 L477.83,490.22 L480.38,495.17 L482.94,500.15 L485.49,505.15 L488.04,510.18 L490.59,515.23 L493.14,520.30 L495.69,525.40 L498.24,530.52 L500.79,535.66 L503.35,540.83 L505.90,546.02 L508.45,551.23 L511.00,556.47" fill="none" stroke="#22dd22" stroke-width="1.3"/>
<rect x="410.15" y="368.62" width="3.7" height="3.7" fill="#22dd22"/>
<rect x="414.35" y="375.79" width="3.7" height="3.7" fill="#22dd22"/>
<rect x="418.55" y="383.03" width="3.7" height="3.7" fill="#22dd22"/>
<rect x="422.75" y="390.33" width="3.7" height="3.7" fill="#22dd22"/>
<rect x="426.95" y="397.69" width="3.7" height="3.7" fill="#22dd22"/>
<rect x="431.15" y="405.12" width="3.7" height="3.7" fill="#22dd22"/>
<rect x="435.35" y="412.61" width="3.7" height="3.7" fill="#22dd22"/>
<rect x="439.55" y="420.16" width="3.7" height="3.7" fill="#22dd22"/>
<rect x="443.75" y="427.78" width="3.7" height="3.7" fill="#22dd22"/>
<rect x="447.95" y="435.46" width="3.7" height="3.7" fill="#22dd22"/>
<rect x="452.15" y="443.21" width="3.7" height="3.7" fill="#22dd22"/>
<rect x="456.35" y="451.02" width="3.7" height="3.7" fill="#22dd22"/>
<rect x="460.55" y="458.89" width="3.7" height="3.7" fill="#22dd22"/>
<rect x="464.75" y="466.83" width="3.7" height="3.7" fill="#22dd22"/>
<rect x="468.95" y="474.83" width="3.7" height="3.7" fill="#22dd22"/>
<rect x="473.15" y="482.89" width="3.7" height="3.7" fill="#22dd22"/>
<rect x="477.35" y="491.02" width="3.7" height="3.7" fill="#22dd22"/>
<rect x="481.55" y="499.21" width="3.7" height="3.7" fill="#22dd22"/>
<rect x="485.75" y="507.46" width="3.7" height="3.7" fill="#22dd22"/>
<rect x="489.95" y="515.78" width="3.7" height="3.7" fill="#22dd22"/>
<rect x="494.15" y="524.16" width="3.7" height="3.7" fill="#22dd22"/>
<rect x="498.35" y="532.61" width="3.7" height="3.7" fill="#22dd22"/>
<rect x="502.55" y="541.12" width="3.7" height="3.7" fill="#22dd22"/>
<rect x="506.75" y="549.69" width="3.7" height="3.7" fill="#22dd22"/>
<rect x="410.30" y="369.13" width="3.4" height="3.4" fill="#0000d8"/>
<rect x="414.50" y="372.94" width="3.4" height="3.4" fill="#0000d8"/>
<rect x="418.70" y="376.76" width="3.4" height="3.4" fill="#0000d8"/>
<rect x="422.90" y="380.57" width="3.4" height="3.4" fill="#0000d8"/>
<rect x="427.10" y="384.38" width="3.4" height="3.4" fill="#0000d8"/>
<rect x="431.30" y="388.19" width="3.4" height="3.4" fill="#0000d8"/>
<rect x="435.50" y="392.01" width="3.4" height="3.4" fill="#0000d8"/>
<rect x="439.70" y="395.82" width="3.4" height="3.4" fill="#0000d8"/>
<rect x="443.90" y="399.63" width="3.4" height="3.4" fill="#0000d8"/>
<rect x="448.10" y="403.45" width="3.4" height="3.4" fill="#0000d8"/>
<rect x="452.30" y="407.26" width="3.4" height="3.4" fill="#0000d8"/>
<rect x="456.50" y="411.07" width="3.4" height="3.4" fill="#0000d8"/>
<rect x="460.70" y="414.89" width="3.4" height="3.4" fill="#0000d8"/>
<rect x="464.90" y="418.70" width="3.4" height="3.4" fill="#0000d8"/>
<rect x="469.10" y="422.51" width="3.4" height="3.4" fill="#0000d8"/>
<rect x="473.30" y="426.33" width="3.4" height="3.4" fill="#0000d8"/>
<rect x="477.50" y="430.14" width="3.4" height="3.4" fill="#0000d8"/>
<rect x="481.70" y="433.95" width="3.4" height="3.4" fill="#0000d8"/>
<rect x="485.90" y="437.77" width="3.4" height="3.4" fill="#0000d8"/>
<rect x="490.10" y="441.58" width="3.4" height="3.4" fill="#0000d8"/>
<rect x="494.30" y="445.39" width="3.4" height="3.4" fill="#0000d8"/>
<rect x="498.50" y="449.21" width="3.4" height="3.4" fill="#0000d8"/>
<rect x="502.70" y="453.02" width="3.4" height="3.4" fill="#0000d8"/>
<rect x="506.90" y="456.83" width="3.4" height="3.4" fill="#0000d8"/>
<rect x="511.10" y="460.65" width="3.4" height="3.4" fill="#0000d8"/>
<rect x="515.30" y="464.46" width="3.4" height="3.4" fill="#0000d8"/>
<rect x="519.50" y="468.27" width="3.4" height="3.4" fill="#0000d8"/>
<rect x="523.70" y="472.08" width="3.4" height="3.4" fill="#0000d8"/>
<rect x="527.90" y="475.90" width="3.4" height="3.4" fill="#0000d8"/>
<rect x="532.10" y="479.71" width="3.4" height="3.4" fill="#0000d8"/>
<rect x="536.30" y="483.52" width="3.4" height="3.4" fill="#0000d8"/>
<rect x="540.50" y="487.34" width="3.4" height="3.4" fill="#0000d8"/>
<rect x="544.70" y="491.15" width="3.4" height="3.4" fill="#0000d8"/>
<rect x="548.90" y="494.96" width="3.4" height="3.4" fill="#0000d8"/>
<rect x="553.10" y="498.78" width="3.4" height="3.4" fill="#0000d8"/>
<rect x="557.30" y="502.59" width="3.4" height="3.4" fill="#0000d8"/>
<rect x="561.50" y="506.40" width="3.4" height="3.4" fill="#0000d8"/>
<rect x="565.70" y="510.22" width="3.4" height="3.4" fill="#0000d8"/>
<rect x="569.90" y="514.03" width="3.4" height="3.4" fill="#0000d8"/>
<rect x="574.10" y="517.84" width="3.4" height="3.4" fill="#0000d8"/>
<rect x="578.30" y="521.66" width="3.4" height="3.4" fill="#0000d8"/>
<rect x="582.50" y="525.47" width="3.4" height="3.4" fill="#0000d8"/>
<rect x="586.70" y="529.28" width="3.4" height="3.4" fill="#0000d8"/>
<rect x="590.90" y="533.10" width="3.4" height="3.4" fill="#0000d8"/>
<rect x="595.10" y="536.91" width="3.4" height="3.4" fill="#0000d8"/>
<rect x="599.30" y="540.72" width="3.4" height="3.4" fill="#0000d8"/>
<rect x="603.50" y="544.54" width="3.4" height="3.4" fill="#0000d8"/>
<rect x="607.70" y="548.35" width="3.4" height="3.4" fill="#0000d8"/>
<rect x="611.90" y="552.16" width="3.4" height="3.4" fill="#0000d8"/>
<rect x="410.20" y="370.76" width="3.6" height="3.6" fill="#ff22ff"/>
<rect x="414.40" y="372.54" width="3.6" height="3.6" fill="#ff22ff"/>
<rect x="418.60" y="374.33" width="3.6" height="3.6" fill="#ff22ff"/>
<rect x="422.80" y="376.11" width="3.6" height="3.6" fill="#ff22ff"/>
<rect x="427.00" y="377.90" width="3.6" height="3.6" fill="#ff22ff"/>
<rect x="431.20" y="379.68" width="3.6" height="3.6" fill="#ff22ff"/>
<rect x="435.40" y="381.47" width="3.6" height="3.6" fill="#ff22ff"/>
<rect x="439.60" y="383.25" width="3.6" height="3.6" fill="#ff22ff"/>
<rect x="443.80" y="385.04" width="3.6" height="3.6" fill="#ff22ff"/>
<rect x="448.00" y="386.83" width="3.6" height="3.6" fill="#ff22ff"/>
<rect x="452.20" y="388.61" width="3.6" height="3.6" fill="#ff22ff"/>
<rect x="456.40" y="390.40" width="3.6" height="3.6" fill="#ff22ff"/>
<rect x="460.60" y="392.19" width="3.6" height="3.6" fill="#ff22ff"/>
<rect x="464.80" y="393.98" width="3.6" height="3.6" fill="#ff22ff"/>
<rect x="469.00" y="395.76" width="3.6" height="3.6" fill="#ff22ff"/>
<rect x="473.20" y="397.55" width="3.6" height="3.6" fill="#ff22ff"/>
<rect x="477.40" y="399.34" width="3.6" height="3.6" fill="#ff22ff"/>
<rect x="481.60" y="401.13" width="3.6" height="3.6" fill="#ff22ff"/>
<rect x="485.80" y="402.92" width="3.6" height="3.6" fill="#ff22ff"/>
<rect x="490.00" y="404.71" width="3.6" height="3.6" fill="#ff22ff"/>
<rect x="494.20" y="406.50" width="3.6" height="3.6" fill="#ff22ff"/>
<rect x="498.40" y="408.28" width="3.6" height="3.6" fill="#ff22ff"/>
<rect x="502.60" y="410.07" width="3.6" height="3.6" fill="#ff22ff"/>
<rect x="506.80" y="411.86" width="3.6" height="3.6" fill="#ff22ff"/>
<rect x="511.00" y="413.65" width="3.6" height="3.6" fill="#ff22ff"/>
<rect x="515.20" y="415.45" width="3.6" height="3.6" fill="#ff22ff"/>
<rect x="519.40" y="417.24" width="3.6" height="3.6" fill="#ff22ff"/>
<rect x="523.60" y="419.03" width="3.6" height="3.6" fill="#ff22ff"/>
<rect x="527.80" y="420.82" width="3.6" height="3.6" fill="#ff22ff"/>
<rect x="532.00" y="422.61" width="3.6" height="3.6" fill="#ff22ff"/>
<rect x="536.20" y="424.40" width="3.6" height="3.6" fill="#ff22ff"/>
<rect x="540.40" y="426.19" width="3.6" height="3.6" fill="#ff22ff"/>
<rect x="544.60" y="427.99" width="3.6" height="3.6" fill="#ff22ff"/>
<rect x="548.80" y="429.78" width="3.6" height="3.6" fill="#ff22ff"/>
<rect x="553.00" y="431.57" width="3.6" height="3.6" fill="#ff22ff"/>
<rect x="557.20" y="433.37" width="3.6" height="3.6" fill="#ff22ff"/>
<rect x="561.40" y="435.16" width="3.6" height="3.6" fill="#ff22ff"/>
<rect x="565.60" y="436.95" width="3.6" height="3.6" fill="#ff22ff"/>
<rect x="569.80" y="438.75" width="3.6" height="3.6" fill="#ff22ff"/>
<rect x="574.00" y="440.54" width="3.6" height="3.6" fill="#ff22ff"/>
<rect x="578.20" y="442.33" width="3.6" height="3.6" fill="#ff22ff"/>
<rect x="582.40" y="444.13" width="3.6" height="3.6" fill="#ff22ff"/>
<rect x="586.60" y="445.92" width="3.6" height="3.6" fill="#ff22ff"/>
<rect x="590.80" y="447.72" width="3.6" height="3.6" fill="#ff22ff"/>
<rect x="595.00" y="449.52" width="3.6" height="3.6" fill="#ff22ff"/>
<rect x="599.20" y="451.31" width="3.6" height="3.6" fill="#ff22ff"/>
<rect x="603.40" y="453.11" width="3.6" height="3.6" fill="#ff22ff"/>
<rect x="607.60" y="454.90" width="3.6" height="3.6" fill="#ff22ff"/>
<rect x="611.80" y="456.70" width="3.6" height="3.6" fill="#ff22ff"/>
<rect x="616.00" y="458.50" width="3.6" height="3.6" fill="#ff22ff"/>
<rect x="620.20" y="460.29" width="3.6" height="3.6" fill="#ff22ff"/>
<rect x="624.40" y="462.09" width="3.6" height="3.6" fill="#ff22ff"/>
<rect x="628.60" y="463.89" width="3.6" height="3.6" fill="#ff22ff"/>
<rect x="632.80" y="465.69" width="3.6" height="3.6" fill="#ff22ff"/>
<rect x="637.00" y="467.48" width="3.6" height="3.6" fill="#ff22ff"/>
<rect x="641.20" y="469.28" width="3.6" height="3.6" fill="#ff22ff"/>
<rect x="645.40" y="471.08" width="3.6" height="3.6" fill="#ff22ff"/>
<rect x="649.60" y="472.88" width="3.6" height="3.6" fill="#ff22ff"/>
<rect x="653.80" y="474.68" width="3.6" height="3.6" fill="#ff22ff"/>
<rect x="658.00" y="476.48" width="3.6" height="3.6" fill="#ff22ff"/>
<rect x="662.20" y="478.28" width="3.6" height="3.6" fill="#ff22ff"/>
<rect x="666.40" y="480.08" width="3.6" height="3.6" fill="#ff22ff"/>
<rect x="670.60" y="481.88" width="3.6" height="3.6" fill="#ff22ff"/>
<rect x="674.80" y="483.68" width="3.6" height="3.6" fill="#ff22ff"/>
<rect x="409.20" y="369.50" width="3.6" height="3.6" fill="#f7941d"/>
<rect x="413.35" y="369.86" width="3.6" height="3.6" fill="#f7941d"/>
<rect x="417.50" y="370.22" width="3.6" height="3.6" fill="#f7941d"/>
<rect x="421.65" y="370.58" width="3.6" height="3.6" fill="#f7941d"/>
<rect x="425.80" y="370.95" width="3.6" height="3.6" fill="#f7941d"/>
<rect x="429.95" y="371.31" width="3.6" height="3.6" fill="#f7941d"/>
<rect x="434.10" y="371.67" width="3.6" height="3.6" fill="#f7941d"/>
<rect x="438.25" y="372.03" width="3.6" height="3.6" fill="#f7941d"/>
<rect x="442.40" y="372.39" width="3.6" height="3.6" fill="#f7941d"/>
<rect x="446.55" y="372.75" width="3.6" height="3.6" fill="#f7941d"/>
<rect x="450.70" y="373.11" width="3.6" height="3.6" fill="#f7941d"/>
<rect x="454.85" y="373.47" width="3.6" height="3.6" fill="#f7941d"/>
<rect x="459.00" y="373.84" width="3.6" height="3.6" fill="#f7941d"/>
<rect x="463.15" y="374.20" width="3.6" height="3.6" fill="#f7941d"/>
<rect x="467.30" y="374.56" width="3.6" height="3.6" fill="#f7941d"/>
<rect x="471.45" y="374.92" width="3.6" height="3.6" fill="#f7941d"/>
<rect x="475.60" y="375.28" width="3.6" height="3.6" fill="#f7941d"/>
<rect x="479.75" y="375.64" width="3.6" height="3.6" fill="#f7941d"/>
<rect x="483.90" y="376.00" width="3.6" height="3.6" fill="#f7941d"/>
<rect x="488.05" y="376.36" width="3.6" height="3.6" fill="#f7941d"/>
<rect x="492.20" y="376.73" width="3.6" height="3.6" fill="#f7941d"/>
<rect x="496.35" y="377.09" width="3.6" height="3.6" fill="#f7941d"/>
<rect x="500.50" y="377.45" width="3.6" height="3.6" fill="#f7941d"/>
<rect x="504.65" y="377.81" width="3.6" height="3.6" fill="#f7941d"/>
<rect x="508.80" y="378.17" width="3.6" height="3.6" fill="#f7941d"/>
<rect x="512.95" y="378.53" width="3.6" height="3.6" fill="#f7941d"/>
<rect x="517.10" y="378.89" width="3.6" height="3.6" fill="#f7941d"/>
<rect x="521.25" y="379.25" width="3.6" height="3.6" fill="#f7941d"/>
<rect x="525.40" y="379.62" width="3.6" height="3.6" fill="#f7941d"/>
<rect x="529.55" y="379.98" width="3.6" height="3.6" fill="#f7941d"/>
<rect x="533.70" y="380.34" width="3.6" height="3.6" fill="#f7941d"/>
<rect x="537.85" y="380.70" width="3.6" height="3.6" fill="#f7941d"/>
<rect x="542.00" y="381.06" width="3.6" height="3.6" fill="#f7941d"/>
<rect x="546.15" y="381.42" width="3.6" height="3.6" fill="#f7941d"/>
<rect x="550.30" y="381.78" width="3.6" height="3.6" fill="#f7941d"/>
<rect x="554.45" y="382.14" width="3.6" height="3.6" fill="#f7941d"/>
<rect x="558.60" y="382.51" width="3.6" height="3.6" fill="#f7941d"/>
<rect x="562.75" y="382.87" width="3.6" height="3.6" fill="#f7941d"/>
<rect x="566.90" y="383.23" width="3.6" height="3.6" fill="#f7941d"/>
<rect x="571.05" y="383.59" width="3.6" height="3.6" fill="#f7941d"/>
<rect x="575.20" y="383.95" width="3.6" height="3.6" fill="#f7941d"/>
<rect x="579.35" y="384.31" width="3.6" height="3.6" fill="#f7941d"/>
<rect x="583.50" y="384.67" width="3.6" height="3.6" fill="#f7941d"/>
<rect x="587.65" y="385.03" width="3.6" height="3.6" fill="#f7941d"/>
<rect x="591.80" y="385.40" width="3.6" height="3.6" fill="#f7941d"/>
<rect x="595.95" y="385.76" width="3.6" height="3.6" fill="#f7941d"/>
<rect x="600.10" y="386.12" width="3.6" height="3.6" fill="#f7941d"/>
<rect x="604.25" y="386.48" width="3.6" height="3.6" fill="#f7941d"/>
<rect x="608.40" y="386.84" width="3.6" height="3.6" fill="#f7941d"/>
<rect x="612.55" y="387.20" width="3.6" height="3.6" fill="#f7941d"/>
<rect x="616.70" y="387.56" width="3.6" height="3.6" fill="#f7941d"/>
<rect x="620.85" y="387.92" width="3.6" height="3.6" fill="#f7941d"/>
<rect x="625.00" y="388.29" width="3.6" height="3.6" fill="#f7941d"/>
<rect x="629.15" y="388.65" width="3.6" height="3.6" fill="#f7941d"/>
<rect x="633.30" y="389.01" width="3.6" height="3.6" fill="#f7941d"/>
<rect x="637.45" y="389.37" width="3.6" height="3.6" fill="#f7941d"/>
<rect x="641.60" y="389.73" width="3.6" height="3.6" fill="#f7941d"/>
<rect x="645.75" y="390.09" width="3.6" height="3.6" fill="#f7941d"/>
<rect x="649.90" y="390.45" width="3.6" height="3.6" fill="#f7941d"/>
<rect x="654.05" y="390.82" width="3.6" height="3.6" fill="#f7941d"/>
<rect x="658.20" y="391.18" width="3.6" height="3.6" fill="#f7941d"/>
<rect x="662.35" y="391.54" width="3.6" height="3.6" fill="#f7941d"/>
<rect x="666.50" y="391.90" width="3.6" height="3.6" fill="#f7941d"/>
<rect x="670.65" y="392.26" width="3.6" height="3.6" fill="#f7941d"/>
<rect x="674.80" y="392.62" width="3.6" height="3.6" fill="#f7941d"/>
<rect x="409.20" y="365.90" width="3.6" height="3.6" fill="#222266"/>
</g>
<line x1="404.2" y1="359.1" x2="679.8" y2="359.1" stroke="#000" stroke-width="2.4"/>
<line x1="404.2" y1="557.1" x2="679.8" y2="557.1" stroke="#000" stroke-width="2.4"/>
<line x1="679.8" y1="359.1" x2="679.8" y2="557.1" stroke="#000" stroke-width="2.4"/>
<line x1="404.2" y1="357.90000000000003" x2="404.2" y2="519.8" stroke="#000" stroke-width="2.4"/>
<line x1="404.2" y1="541.9" x2="404.2" y2="558.3000000000001" stroke="#000" stroke-width="2.4"/>
<line x1="410.40" y1="557.10" x2="410.40" y2="552.10" stroke="#000" stroke-width="1.6" />
<line x1="410.40" y1="359.10" x2="410.40" y2="364.10" stroke="#000" stroke-width="1.6" />
<line x1="452.40" y1="557.10" x2="452.40" y2="554.10" stroke="#000" stroke-width="1.6" />
<line x1="452.40" y1="359.10" x2="452.40" y2="362.10" stroke="#000" stroke-width="1.6" />
<line x1="494.40" y1="557.10" x2="494.40" y2="552.10" stroke="#000" stroke-width="1.6" />
<line x1="494.40" y1="359.10" x2="494.40" y2="364.10" stroke="#000" stroke-width="1.6" />
<line x1="536.40" y1="557.10" x2="536.40" y2="554.10" stroke="#000" stroke-width="1.6" />
<line x1="536.40" y1="359.10" x2="536.40" y2="362.10" stroke="#000" stroke-width="1.6" />
<line x1="578.40" y1="557.10" x2="578.40" y2="552.10" stroke="#000" stroke-width="1.6" />
<line x1="578.40" y1="359.10" x2="578.40" y2="364.10" stroke="#000" stroke-width="1.6" />
<line x1="620.40" y1="557.10" x2="620.40" y2="554.10" stroke="#000" stroke-width="1.6" />
<line x1="620.40" y1="359.10" x2="620.40" y2="362.10" stroke="#000" stroke-width="1.6" />
<line x1="662.40" y1="557.10" x2="662.40" y2="552.10" stroke="#000" stroke-width="1.6" />
<line x1="662.40" y1="359.10" x2="662.40" y2="364.10" stroke="#000" stroke-width="1.6" />
<line x1="404.20" y1="362.50" x2="407.70" y2="362.50" stroke="#000" stroke-width="1.6" />
<line x1="679.80" y1="362.50" x2="676.30" y2="362.50" stroke="#000" stroke-width="1.6" />
<line x1="404.20" y1="371.00" x2="409.20" y2="371.00" stroke="#000" stroke-width="1.6" />
<line x1="679.80" y1="371.00" x2="674.80" y2="371.00" stroke="#000" stroke-width="1.6" />
<line x1="404.20" y1="380.80" x2="407.70" y2="380.80" stroke="#000" stroke-width="1.6" />
<line x1="679.80" y1="380.80" x2="676.30" y2="380.80" stroke="#000" stroke-width="1.6" />
<line x1="404.20" y1="390.20" x2="407.70" y2="390.20" stroke="#000" stroke-width="1.6" />
<line x1="679.80" y1="390.20" x2="676.30" y2="390.20" stroke="#000" stroke-width="1.6" />
<line x1="404.20" y1="400.00" x2="407.70" y2="400.00" stroke="#000" stroke-width="1.6" />
<line x1="679.80" y1="400.00" x2="676.30" y2="400.00" stroke="#000" stroke-width="1.6" />
<line x1="404.20" y1="410.50" x2="407.70" y2="410.50" stroke="#000" stroke-width="1.6" />
<line x1="679.80" y1="410.50" x2="676.30" y2="410.50" stroke="#000" stroke-width="1.6" />
<line x1="404.20" y1="422.50" x2="407.70" y2="422.50" stroke="#000" stroke-width="1.6" />
<line x1="679.80" y1="422.50" x2="676.30" y2="422.50" stroke="#000" stroke-width="1.6" />
<line x1="404.20" y1="435.50" x2="407.70" y2="435.50" stroke="#000" stroke-width="1.6" />
<line x1="679.80" y1="435.50" x2="676.30" y2="435.50" stroke="#000" stroke-width="1.6" />
<line x1="404.20" y1="448.50" x2="407.70" y2="448.50" stroke="#000" stroke-width="1.6" />
<line x1="679.80" y1="448.50" x2="676.30" y2="448.50" stroke="#000" stroke-width="1.6" />
<line x1="404.20" y1="464.00" x2="407.70" y2="464.00" stroke="#000" stroke-width="1.6" />
<line x1="679.80" y1="464.00" x2="676.30" y2="464.00" stroke="#000" stroke-width="1.6" />
<line x1="404.20" y1="480.80" x2="409.20" y2="480.80" stroke="#000" stroke-width="1.6" />
<line x1="679.80" y1="480.80" x2="674.80" y2="480.80" stroke="#000" stroke-width="1.6" />
<line x1="404.20" y1="499.20" x2="407.70" y2="499.20" stroke="#000" stroke-width="1.6" />
<line x1="679.80" y1="499.20" x2="676.30" y2="499.20" stroke="#000" stroke-width="1.6" />
<line x1="404.20" y1="519.20" x2="407.70" y2="519.20" stroke="#000" stroke-width="1.6" />
<line x1="679.80" y1="519.20" x2="676.30" y2="519.20" stroke="#000" stroke-width="1.6" />
<line x1="404.20" y1="542.50" x2="407.70" y2="542.50" stroke="#000" stroke-width="1.6" />
<line x1="679.80" y1="542.50" x2="676.30" y2="542.50" stroke="#000" stroke-width="1.6" />
<text x="410.4" y="572.8" font-family='"Liberation Sans", sans-serif' font-size="15" font-weight="bold" font-style="normal" fill="#000" text-anchor="middle" >0</text>
<text x="494.4" y="572.8" font-family='"Liberation Sans", sans-serif' font-size="15" font-weight="bold" font-style="normal" fill="#000" text-anchor="middle" >4</text>
<text x="578.4" y="572.8" font-family='"Liberation Sans", sans-serif' font-size="15" font-weight="bold" font-style="normal" fill="#000" text-anchor="middle" >8</text>
<text x="662.9" y="572.8" font-family='"Liberation Sans", sans-serif' font-size="15" font-weight="bold" font-style="normal" fill="#000" text-anchor="middle" >12</text>
<text x="399.7" y="375.8" font-family='"Liberation Sans", sans-serif' font-size="14.2" font-weight="bold" font-style="normal" fill="#000" text-anchor="end" >1E-6</text>
<text x="398.4" y="485.3" font-family='"Liberation Sans", sans-serif' font-size="14" font-weight="bold" font-style="normal" fill="#000" text-anchor="end" >5E-7</text>
<text x="514.3" y="593.2" font-family='"Liberation Sans", sans-serif' font-size="14.5" font-weight="bold" font-style="normal" fill="#000" text-anchor="start" >Time (s)</text>
<text transform="translate(358.8,494.5) rotate(-90)" font-family='"Liberation Sans", sans-serif' font-size="15.5" font-weight="bold" font-style="normal" fill="#000">I</text>
<text transform="translate(364.7,489.5) rotate(-90)" font-family='"Liberation Sans", sans-serif' font-size="8.5" font-weight="normal" font-style="normal" fill="#000" textLength="11.3" lengthAdjust="spacingAndGlyphs">SD</text>
<text transform="translate(356.4,468.6) rotate(-90)" font-family='"Liberation Sans", sans-serif' font-size="15" font-weight="bold" font-style="normal" fill="#000" textLength="21" lengthAdjust="spacingAndGlyphs">(A)</text>
<text x="617.5" y="383.3" font-family='"Liberation Sans", sans-serif' font-size="14.5" font-weight="bold" font-style="normal" fill="#000" text-anchor="start" >30 nm</text>
<text x="591.7" y="437.7" font-family='"Liberation Sans", sans-serif' font-size="14.5" font-weight="bold" font-style="normal" fill="#000" text-anchor="start" >20 nm</text>
<text x="547.1" y="486.5" font-family='"Liberation Sans", sans-serif' font-size="14.5" font-weight="bold" font-style="normal" fill="#000" text-anchor="start" >16 nm</text>
<text x="506" y="523.3" font-family='"Liberation Sans", sans-serif' font-size="14.5" font-weight="bold" font-style="normal" fill="#000" text-anchor="start" >13 nm</text>
<text x="457" y="547.4" font-family='"Liberation Sans", sans-serif' font-size="14.5" font-weight="bold" font-style="normal" fill="#000" text-anchor="start" >10 nm</text>
<text x="367.7" y="536.7" font-family='"Liberation Sans", sans-serif' font-size="14.5" font-weight="bold" font-style="normal" fill="#000" text-anchor="start" >4 nm</text>
<text x="431.7" y="589.2" font-family='"Liberation Sans", sans-serif' font-size="14.5" font-weight="bold" font-style="normal" fill="#000" text-anchor="start" >7 nm</text>
<line x1="411.20" y1="529.40" x2="422.40" y2="514.70" stroke="#555" stroke-width="0.8" />
<line x1="439.70" y1="561.40" x2="445.80" y2="574.70" stroke="#555" stroke-width="0.8" />
</svg></body></html>
